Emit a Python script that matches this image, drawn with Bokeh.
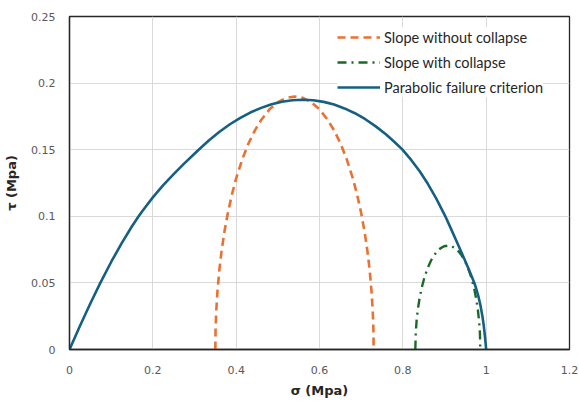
from bokeh.plotting import figure
from bokeh.models import FixedTicker, Legend, LegendItem
from bokeh.embed import file_html
from bokeh.resources import INLINE

# ---- data ----
slope_no_collapse_sigma = [0.35, 0.3505, 0.352, 0.355, 0.36, 0.365, 0.372, 0.38, 0.39, 0.40,
                           0.415, 0.43, 0.445, 0.46, 0.48, 0.50, 0.52, 0.54, 0.56, 0.58,
                           0.60, 0.62, 0.635, 0.65, 0.665, 0.68, 0.69, 0.70, 0.708, 0.715,
                           0.72, 0.725, 0.728, 0.7295, 0.73]
slope_no_collapse_tau = [0.0, 0.0138, 0.0275, 0.0433, 0.0608, 0.074, 0.0887, 0.1025, 0.1166, 0.1285,
                         0.1431, 0.155, 0.1645, 0.1723, 0.1803, 0.1857, 0.1889, 0.19, 0.1889, 0.1857,
                         0.1803, 0.1723, 0.1645, 0.155, 0.1431, 0.1285, 0.1166, 0.1025, 0.0887, 0.074,
                         0.0608, 0.0433, 0.0275, 0.0138, 0.0]

slope_collapse_sigma = [0.83, 0.831, 0.833, 0.836, 0.84, 0.845, 0.852, 0.86, 0.868, 0.875,
                        0.882, 0.89, 0.899, 0.908, 0.917, 0.926, 0.934, 0.941, 0.948, 0.956,
                        0.964, 0.971, 0.976, 0.98, 0.983, 0.985, 0.986]
slope_collapse_tau = [0.0, 0.0124, 0.0214, 0.030, 0.0382, 0.046, 0.0543, 0.0615, 0.067, 0.0707,
                      0.0735, 0.0759, 0.0775, 0.078, 0.0775, 0.0759, 0.0735, 0.0707, 0.067, 0.0615,
                      0.0543, 0.046, 0.0382, 0.030, 0.0214, 0.0124, 0.0]

parabolic_sigma = [0.0, 0.025, 0.05, 0.074, 0.1, 0.125, 0.15, 0.166, 0.175, 0.2,
                   0.225, 0.25, 0.275, 0.3, 0.31, 0.335, 0.36, 0.385, 0.41, 0.435,
                   0.46, 0.485, 0.51, 0.535, 0.561, 0.585, 0.61, 0.635, 0.66, 0.685,
                   0.71, 0.735, 0.76, 0.78, 0.798, 0.82, 0.84, 0.86, 0.88, 0.902,
                   0.917, 0.93, 0.944, 0.958, 0.971, 0.976, 0.981, 0.986, 0.991, 0.994,
                   0.997, 0.999, 1.0]
parabolic_tau = [0.0, 0.0176, 0.0345, 0.05, 0.0657, 0.0797, 0.0925, 0.1, 0.104, 0.1142,
                 0.1234, 0.1317, 0.1395, 0.147, 0.15, 0.1571, 0.1635, 0.1691, 0.1739, 0.1781,
                 0.1814, 0.1841, 0.186, 0.1871, 0.1875, 0.1871, 0.1859, 0.1839, 0.181, 0.1774,
                 0.1729, 0.1675, 0.1614, 0.1558, 0.1504, 0.1423, 0.134, 0.1244, 0.1135, 0.1,
                 0.0896, 0.0805, 0.0706, 0.0605, 0.0505, 0.0458, 0.0403, 0.0336, 0.025, 0.0185,
                 0.01, 0.0035, 0.0]

x_ticks = [0, 0.2, 0.4, 0.6, 0.8, 1.0, 1.2]
x_tick_labels = ["0", "0.2", "0.4", "0.6", "0.8", "1", "1.2"]
y_ticks = [0, 0.05, 0.1, 0.15, 0.2, 0.25]
y_tick_labels = ["0", "0.05", "0.1", "0.15", "0.2", "0.25"]

series_names = ["Slope without collapse", "Slope with collapse", "Parabolic failure criterion"]

p = figure(width=579, height=403, output_backend="svg", toolbar_location=None,
           x_range=(0, 1.2), y_range=(0, 0.25))
p.min_border_left = 69
p.min_border_right = 10
p.min_border_top = 16
p.min_border_bottom = 54

p.outline_line_color = "#262626"
p.outline_line_width = 1.3
p.background_fill_color = "white"
p.border_fill_color = "white"

p.xgrid.grid_line_color = "#D9D9D9"
p.ygrid.grid_line_color = "#D9D9D9"
p.xgrid.grid_line_width = 1
p.ygrid.grid_line_width = 1

p.xaxis.ticker = FixedTicker(ticks=x_ticks)
p.yaxis.ticker = FixedTicker(ticks=y_ticks)
p.xaxis.major_label_overrides = {t: l for t, l in zip(x_ticks, x_tick_labels)}
p.yaxis.major_label_overrides = {t: l for t, l in zip(y_ticks, y_tick_labels)}

for ax in (p.xaxis, p.yaxis):
    ax.axis_line_color = "#262626"
    ax.axis_line_width = 1.3
    ax.major_tick_line_color = None
    ax.minor_tick_line_color = None
    ax.major_tick_out = 0
    ax.major_tick_in = 0
    ax.major_label_text_font = "DejaVu Sans"
    ax.major_label_text_font_size = "11px"
    ax.major_label_text_color = "#595959"
    ax.axis_label_text_font = "DejaVu Sans"
    ax.axis_label_text_font_size = "13px"
    ax.axis_label_text_font_style = "bold"
    ax.axis_label_text_color = "#262626"

p.xaxis.axis_label = "σ (Mpa)"
p.yaxis.axis_label = "τ (Mpa)"
p.xaxis.major_label_standoff = 16
p.yaxis.major_label_standoff = 14
p.xaxis.axis_label_standoff = 6
p.yaxis.axis_label_standoff = 9

r1 = p.line(slope_no_collapse_sigma, slope_no_collapse_tau, line_color="#E97132",
            line_width=2.6, line_dash="8 5")
r2 = p.line(slope_collapse_sigma, slope_collapse_tau, line_color="#196B24",
            line_width=2.4, line_dash="9 5 2 5")
r3 = p.line(parabolic_sigma, parabolic_tau, line_color="#156082", line_width=2.6)

legend = Legend(items=[LegendItem(label=series_names[0], renderers=[r1]),
                       LegendItem(label=series_names[1], renderers=[r2]),
                       LegendItem(label=series_names[2], renderers=[r3])],
                location=(268, 252))
legend.margin = 0
legend.padding = 5
legend.spacing = 5
legend.glyph_width = 43
legend.glyph_height = 20
legend.label_height = 20
legend.label_standoff = 4
legend.label_text_font = "Lato"
legend.label_text_font_size = "14.5px"
legend.label_text_color = "#262626"
legend.border_line_color = None
legend.background_fill_color = "white"
legend.background_fill_alpha = 1.0
p.add_layout(legend)

open("out.html", "w").write(file_html(p, INLINE))
